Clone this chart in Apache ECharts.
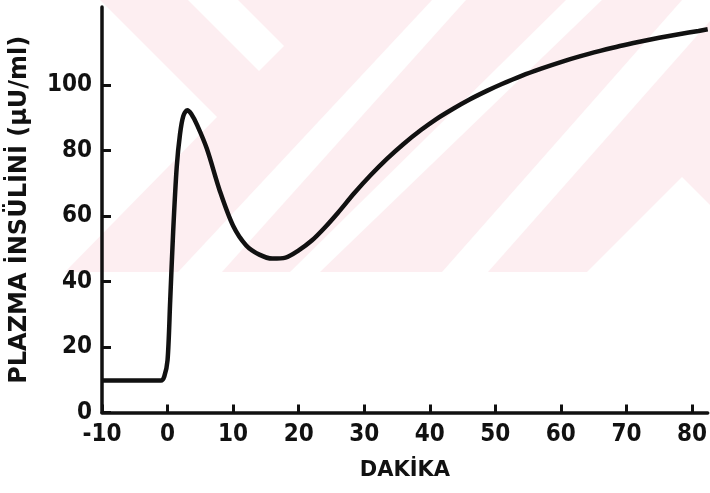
<!DOCTYPE html>
<html>
<head>
<meta charset="utf-8">
<script src="https://cdn.jsdelivr.net/npm/echarts@6/dist/echarts.min.js"></script>
<style>
  html, body { margin: 0; padding: 0; background: #fff; }
  #chart { width: 710px; height: 493px; }
</style>
</head>
<body>
<div id="chart"></div>
<script>
// dakika (zaman) ve plazma insülini okumalari
var dakika = [-10, -1, -0.5, 0, 0.4, 0.85, 1.4, 1.9, 2.4, 3, 3.6, 4.5, 6, 8, 10, 12, 14, 16, 18, 20,
  22, 24, 26, 28.5, 31, 33.5, 36, 38.7, 41, 43.7, 46, 48.7, 51, 54, 57, 60, 63, 66, 69, 72, 75, 78, 81, 82.4]
var insulin = [9.8, 9.8, 11, 16, 34, 55, 75, 85, 90.5, 92.3, 91.2, 87.8, 80.5, 67.5, 57, 51, 48.2, 47, 47.3, 49.5,
  52.5, 56.5, 61, 67, 72.5, 77.5, 82, 86.3, 89.6, 92.9, 95.5, 98.2, 100.3, 102.8, 105, 107, 108.8, 110.4, 111.9, 113.2, 114.4, 115.5, 116.5, 117]
var xTicks = [-10, 0, 10, 20, 30, 40, 50, 60, 70, 80]
var yTicks = [0, 20, 40, 60, 80, 100]

var chart = echarts.init(document.getElementById('chart'))

var numFont = "'DejaVu Sans Condensed', 'Liberation Sans Narrow', sans-serif"
var pink = '#fdeef1'

// arka plandaki soluk filigran
var watermark = [
  { type: 'rect', shape: { x: 0, y: 0, width: 710, height: 272 }, style: { fill: pink } },
  { type: 'polygon', shape: { points: [[0, 0], [100, 0], [217, 117], [65, 272], [0, 272]] }, style: { fill: '#fff' } },
  { type: 'polygon', shape: { points: [[188, 0], [238, 0], [284, 46], [259, 71]] }, style: { fill: '#fff' } },
  { type: 'polygon', shape: { points: [[432, 0], [466, 0], [222, 272], [178, 272]] }, style: { fill: '#fff' } },
  { type: 'polygon', shape: { points: [[566, 0], [602, 0], [320, 272], [290, 272]] }, style: { fill: '#fff' } },
  { type: 'polygon', shape: { points: [[682, 0], [710, 0], [710, 21], [488, 272], [442, 272]] }, style: { fill: '#fff' } },
  { type: 'polygon', shape: { points: [[682, 177], [710, 205], [710, 272], [587, 272]] }, style: { fill: '#fff' } }
]
watermark.forEach(function (el) { el.z = -5; el.silent = true })

var option = {
  backgroundColor: '#fff',
  animation: false,
  graphic: { elements: watermark },
  grid: { left: 102, right: 0, top: 7, bottom: 80.5 },
  xAxis: {
    type: 'value',
    min: -10,
    max: 82.4,
    name: 'DAKİKA',
    nameLocation: 'middle',
    nameGap: 48,
    nameTextStyle: { fontFamily: 'DejaVu Sans', fontWeight: 'bold', fontSize: 21, color: '#111' },
    axisLine: { onZero: false, lineStyle: { color: '#111', width: 3.5 } },
    axisTick: { inside: true, length: 8, lineStyle: { color: '#111', width: 3 }, customValues: xTicks },
    axisLabel: { customValues: xTicks, margin: 10, fontFamily: numFont, fontWeight: 'bold', fontSize: 24, color: '#111' },
    splitLine: { show: false }
  },
  yAxis: {
    type: 'value',
    min: 0,
    max: 123.8,
    name: 'PLAZMA İNSÜLİNİ (µU/ml)',
    nameLocation: 'middle',
    nameGap: 70,
    nameTextStyle: { fontFamily: 'DejaVu Sans', fontWeight: 'bold', fontSize: 24, color: '#111' },
    axisLine: { show: true, onZero: false, lineStyle: { color: '#111', width: 3.5 } },
    axisTick: { show: true, inside: true, length: 9, lineStyle: { color: '#111', width: 3 }, customValues: yTicks },
    axisLabel: { customValues: yTicks, margin: 10, fontFamily: numFont, fontWeight: 'bold', fontSize: 24, color: '#111' },
    splitLine: { show: false }
  },
  series: [
    {
      type: 'line',
      data: dakika.map(function (t, i) { return [t, insulin[i]] }),
      smooth: 0.3,
      showSymbol: false,
      lineStyle: { color: '#111', width: 4.5 }
    }
  ]
}
chart.setOption(option)
</script>
</body>
</html>
